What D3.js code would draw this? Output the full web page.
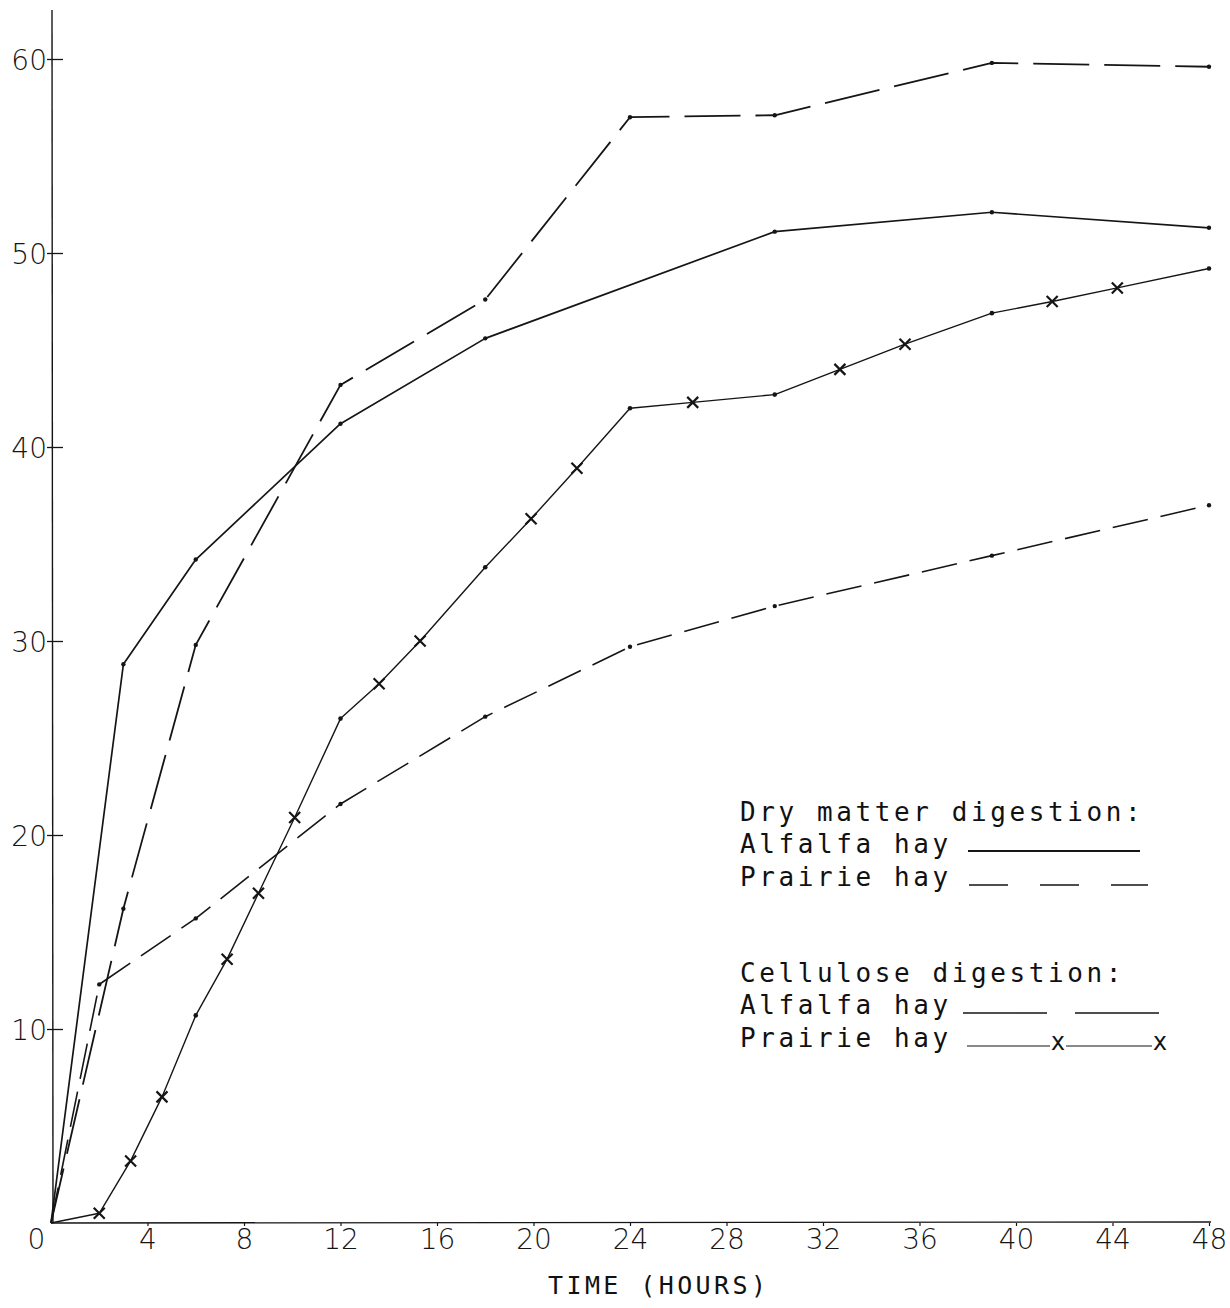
<!DOCTYPE html>
<html><head><meta charset="utf-8">
<script src="https://cdn.jsdelivr.net/npm/d3@7"></script>
<style>
html,body{margin:0;padding:0;background:#fff;}
svg{display:block;}
.tick text{font-family:"DejaVu Sans",sans-serif;font-weight:300;fill:#151515;}
.mono{font-family:"DejaVu Sans Mono","Liberation Mono",monospace;fill:#111;}
</style>
</head><body>
<script>
// ---- data (hours, percent digested) ----
const hourTicks = [0,4,8,12,16,20,24,28,32,36,40,44,48];
const pctTicks = [10,20,30,40,50,60];

const dryAlfalfa = [[0,0],[3,28.8],[6,34.2],[12,41.2],[18,45.6],[30,51.1],[39,52.1],[48,51.3]];
const dryPrairie = [[0,0],[3,16.2],[6,29.8],[12,43.2],[18,47.6],[24,57.0],[30,57.1],[39,59.8],[48,59.6]];
const celAlfalfa = [[0,0],[2,12.3],[6,15.7],[12,21.6],[18,26.1],[24,29.7],[30,31.8],[39,34.4],[48,37.0]];
const celPrairie = [[0,0],[2,0.5],[3.3,3.2],[4.6,6.5],[6,10.7],[7.3,13.6],[8.6,17.0],[10.1,20.9],[12,26.0],[13.6,27.8],[15.3,30.0],[18,33.8],[19.9,36.3],[21.8,38.9],[24,42.0],[26.6,42.3],[30,42.7],[32.7,44.0],[35.4,45.3],[39,46.9],[41.5,47.5],[44.2,48.2],[48,49.2]];
const celPrairieMarks = ["","x","x","x",".","x","x","x",".","x","x",".","x","x",".","x",".","x","x",".","x","x","."];

const legendGroups = ["Dry matter digestion:","Cellulose digestion:"];
const legendItems = ["Alfalfa hay","Prairie hay"];
const xTitle = "TIME (HOURS)";

// ---- drawing ----
const W = 1230, H = 1308;
const svg = d3.select("body").append("svg").attr("width",W).attr("height",H);
const x = d3.scaleLinear().domain([0,48]).range([51,1209]);
const y = d3.scaleLinear().domain([0,60]).range([1223,59]);
const ink = "#151515";

// y axis
svg.append("line").attr("x1",53).attr("x2",52).attr("y1",y(0)).attr("y2",10)
  .attr("stroke",ink).attr("stroke-width",1.4);
const ya = svg.append("g").attr("transform","translate(53,0)")
  .call(d3.axisLeft(y).tickValues(pctTicks).tickSize(-10).tickPadding(8).tickFormat(d3.format("d")));
ya.select(".domain").remove();
ya.selectAll(".tick line").attr("x1",-6).attr("stroke",ink).attr("stroke-width",1.3);
ya.selectAll(".tick text").attr("font-size",28).attr("dy","0.36em").attr("x",-6);

// x axis
svg.append("line").attr("x1",x(0)).attr("x2",x(48)+2).attr("y1",y(0)).attr("y2",y(0)-1)
  .attr("stroke",ink).attr("stroke-width",1.4);
const xa = svg.append("g").attr("transform",`translate(0,${y(0)})`)
  .call(d3.axisBottom(x).tickValues(hourTicks).tickSize(-8).tickPadding(10).tickFormat(d3.format("d")));
xa.select(".domain").remove();
xa.selectAll(".tick line").attr("y2",3).attr("stroke",ink).attr("stroke-width",1.2)
  .filter(d=>d===0).remove();
xa.selectAll(".tick text").attr("font-size",28).attr("y",6).attr("dy","0.71em")
  .filter(d=>d===0).attr("x",-15);

svg.append("text").attr("class","mono").attr("x",548).attr("y",1294)
  .attr("font-size",25).attr("letter-spacing",3.4).text(xTitle);

// lines
const line = d3.line().x(d=>x(d[0])).y(d=>y(d[1]));
function drawSeries(data, dash, sw){
  svg.append("path").datum(data).attr("d",line).attr("fill","none")
    .attr("stroke",ink).attr("stroke-width",sw).attr("stroke-linejoin","round")
    .attr("stroke-dasharray",dash);
  svg.append("g").selectAll("circle").data(data.slice(1)).join("circle")
    .attr("cx",d=>x(d[0])).attr("cy",d=>y(d[1])).attr("r",2.2).attr("fill",ink);
}
drawSeries(dryAlfalfa, null, 1.7);
drawSeries(dryPrairie, "56,15", 1.8);
drawSeries(celAlfalfa, "36,13", 1.6);

// cellulose prairie with x marks
svg.append("path").datum(celPrairie).attr("d",line).attr("fill","none")
  .attr("stroke",ink).attr("stroke-width",1.4).attr("stroke-linejoin","round");
const cp = celPrairie.map((d,i)=>({h:d[0],v:d[1],m:celPrairieMarks[i]}));
svg.append("g").selectAll("circle").data(cp.filter(d=>d.m===".")).join("circle")
  .attr("cx",d=>x(d.h)).attr("cy",d=>y(d.v)).attr("r",2.3).attr("fill",ink);
svg.append("g").selectAll("path").data(cp.filter(d=>d.m==="x")).join("path")
  .attr("d",d=>{const cx=x(d.h),cy=y(d.v),s=5.5;return `M${cx-s},${cy-s}L${cx+s},${cy+s}M${cx-s},${cy+s}L${cx+s},${cy-s}`;})
  .attr("stroke",ink).attr("stroke-width",2.2);

// legend
const lg = svg.append("g");
const lx = 740, fs = 26, ls = 3.6;
const rows = [
  {t:legendGroups[0], y:821},
  {t:legendItems[0], y:853},
  {t:legendItems[1], y:886},
  {t:legendGroups[1], y:982},
  {t:legendItems[0], y:1014},
  {t:legendItems[1], y:1047}
];
lg.selectAll("text").data(rows).join("text").attr("class","mono")
  .attr("x",lx).attr("y",d=>d.y).attr("font-size",fs).attr("letter-spacing",ls).text(d=>d.t);
function lline(x1,x2,yy,dash,sw){
  lg.append("line").attr("x1",x1).attr("x2",x2).attr("y1",yy).attr("y2",yy)
    .attr("stroke",ink).attr("stroke-width",sw||1.6).attr("stroke-dasharray",dash);
}
lline(968,1140,851,null,1.8);
lline(969,1148,885,"39,32",1.6);
lline(963,1163,1013,"84,28",1.6);
lline(967,1050,1046,null,1.2);
lline(1066,1152,1046,null,1.2);
[1058,1160].forEach(cx=>{
  lg.append("text").attr("class","mono").attr("x",cx).attr("y",1050).attr("text-anchor","middle")
    .attr("font-size",24).text("x");
});
</script>
</body></html>
